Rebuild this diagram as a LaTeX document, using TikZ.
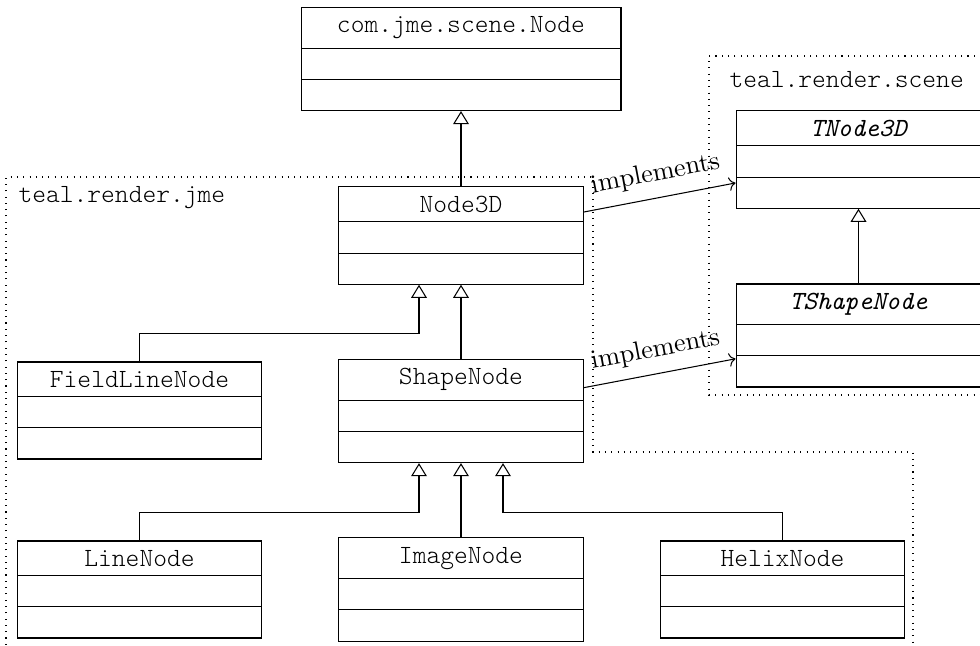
\documentclass[tikz,border=0pt]{standalone}
\usepackage{fontspec}
\setmonofont{lmmonolt10-regular}[Extension=.otf, ItalicFont=lmmono10-italic]
\usetikzlibrary{shapes.multipart,arrows.meta,calc}
\begin{document}
\begin{tikzpicture}[x=0.381pt, y=-0.381pt,
  umlclass/.style={draw, rectangle split, rectangle split parts=3,
    rectangle split ignore empty parts=false,
    rectangle split empty part height=4.8pt,
    rectangle split empty part depth=0pt,
    minimum width=93.3pt, font=\ttfamily, line width=0.4pt, fill=white},
  abstractclass/.style={umlclass, font=\ttfamily\itshape},
  inherit/.style={line width=0.4pt, -{Triangle[open,length=5pt,width=6pt]}},
  realize/.style={line width=0.4pt, ->},
  implabel/.style={midway, above=1pt, sloped, font=\rmfamily},
  pkg/.style={dotted, line width=0.4pt},
  pkglabel/.style={font=\ttfamily, anchor=base west, inner sep=0pt}]
\path[use as bounding box, clip] (0,0) rectangle (980,646);

% packages
\draw[pkg] (6,670) -- (6,177) -- (593,177) -- (593,452) -- (913,452) -- (913,670);
\draw[pkg] (1000,56) -- (709,56) -- (709,395) -- (1000,395);
\node[pkglabel] (jmelabel) at (18,203) {teal.render.jme};
\node[pkglabel] (scenelabel) at (729,88) {teal.render.scene};

% classes
\node[umlclass, minimum width=121.9pt] (jmeNode) at (461,59) {com.jme.scene.Node\nodepart{second}\nodepart{third}};
\node[umlclass] (Node3D) at (461,235.5) {Node3D\nodepart{second}\nodepart{third}};
\node[umlclass] (FieldLineNode) at (139.5,410.5) {FieldLineNode\nodepart{second}\nodepart{third}};
\node[umlclass] (ShapeNode) at (461,411) {ShapeNode\nodepart{second}\nodepart{third}};
\node[umlclass] (LineNode) at (139.5,589.5) {LineNode\nodepart{second}\nodepart{third}};
\node[umlclass] (ImageNode) at (461,589.5) {ImageNode\nodepart{second}\nodepart{third}};
\node[umlclass] (HelixNode) at (782.5,589.5) {HelixNode\nodepart{second}\nodepart{third}};
\node[abstractclass] (TNode3D) at (858.5,159.5) {TNode3D\nodepart{second}\nodepart{third}};
\node[abstractclass] (TShapeNode) at (858.5,335.5) {TShapeNode\nodepart{second}\nodepart{third}};

% inheritance
\draw[inherit] (Node3D.north) -- (jmeNode.south);
\draw[inherit] (TShapeNode.north) -- (TNode3D.south);
\draw[inherit] (ShapeNode.north) -- (Node3D.south);
\draw[inherit] (FieldLineNode.north) -- ++(0,-28) -| ([xshift=-16pt]Node3D.south);
\draw[inherit] (LineNode.north) -- ++(0,-28) -| ([xshift=-16pt]ShapeNode.south);
\draw[inherit] (ImageNode.north) -- (ShapeNode.south);
\draw[inherit] (HelixNode.north) -- ++(0,-28) -| ([xshift=16pt]ShapeNode.south);

% realization
\draw[realize] (Node3D) -- node[implabel] {implements} (TNode3D);
\draw[realize] (ShapeNode) -- node[implabel] {implements} (TShapeNode);
\end{tikzpicture}
\end{document}
